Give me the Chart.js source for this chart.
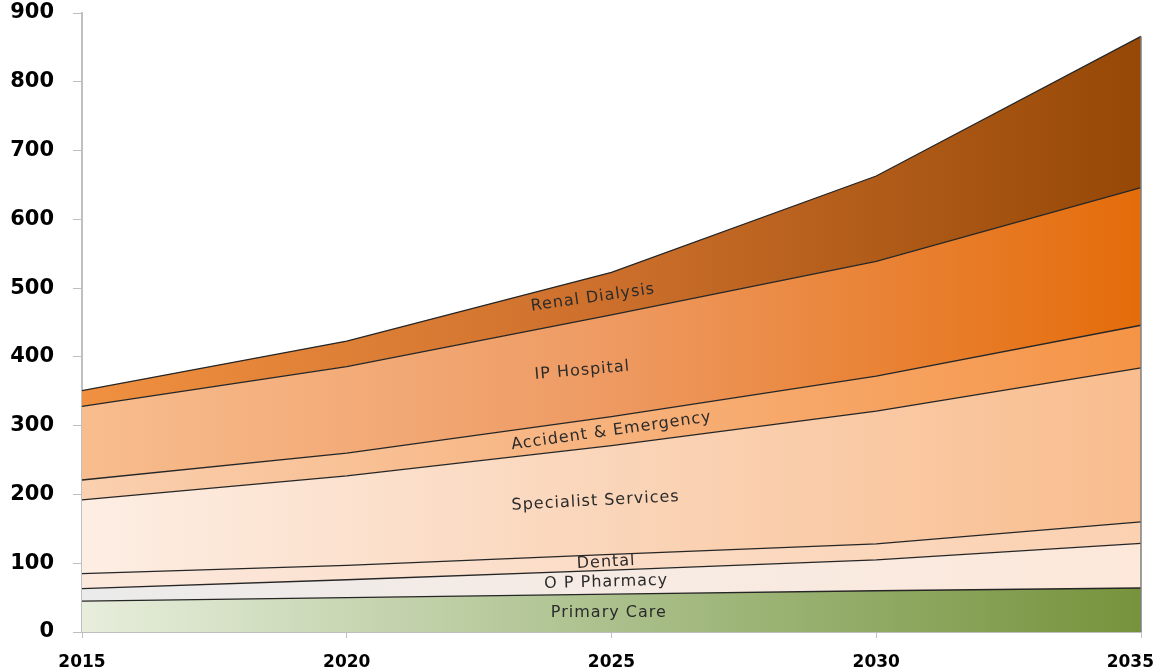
<!DOCTYPE html>
<html lang="en">
  <head>
    <meta charset="UTF-8" />
    <title>Health spend projection</title>
    <script src="https://cdn.jsdelivr.net/npm/chart.js@4"></script>
    <style>
      html, body {
        margin: 0;
        padding: 0;
        background: #fff;
      }
      .wrap {
        width: 1158px;
        height: 672px;
      }
    </style>
  </head>
  <body>
    <div class="wrap"><canvas id="chart" width="1158" height="672"></canvas></div>

    <script>
      // Values (stacked, bottom layer first)
      const years = ["2015", "2020", "2025", "2030", "2035"];
      const primaryCare = [45, 50, 55, 60, 64];
      const opPharmacy = [18, 26, 35, 45, 65];
      const dental = [22, 21, 23, 23, 31];
      const specialist = [107, 130, 158, 193, 224];
      const accidentEmergency = [29, 33, 42, 51, 62];
      const ipHospital = [107, 126, 148, 167, 200];
      const renalDialysis = [23, 37, 62, 124, 220];
      const yTicks = [0, 100, 200, 300, 400, 500, 600, 700, 800, 900];

      const layers = [
        { label: "Primary Care", data: primaryCare, stops: ["#e7eedc", "#abc08c", "#76933c"] },
        { label: "O P Pharmacy", data: opPharmacy, stops: ["#ebebeb", "#f6ebe4", "#fde8da"] },
        { label: "Dental", data: dental, stops: ["#fce9dd", "#fbdcc6", "#fbd1b1"] },
        { label: "Specialist Services", data: specialist, stops: ["#fdeee4", "#fad5b9", "#f9bd8e"] },
        { label: "Accident & Emergency", data: accidentEmergency, stops: ["#fad0b0", "#f7b27c", "#f59446"] },
        { label: "IP Hospital", data: ipHospital, stops: ["#f8bd8f", "#ee9a62", "#e46c0a"] },
        { label: "Renal Dialysis", data: renalDialysis, stops: ["#f09040", "#cc6f2c", "#964806"] },
      ];

      // where each band's name sits: layer index, fractional category index, angle in degrees
      const bandLabels = [
        { layer: 6, at: 1.93, angle: -8 },
        { layer: 5, at: 1.89, angle: -5 },
        { layer: 4, at: 2.0, angle: -8 },
        { layer: 3, at: 1.94, angle: -3 },
        { layer: 2, at: 1.98, angle: -3 },
        { layer: 1, at: 1.98, angle: -1.5 },
        { layer: 0, at: 1.99, angle: 0 },
      ];

      function gradientFor(stops) {
        return (context) => {
          const { ctx, chartArea } = context.chart;
          if (!chartArea) return stops[0];
          const g = ctx.createLinearGradient(chartArea.left, 0, chartArea.right, 0);
          g.addColorStop(0, stops[0]);
          g.addColorStop(0.5, stops[1]);
          g.addColorStop(1, stops[2]);
          return g;
        };
      }

      // running totals so labels can sit in the middle of their band
      function cumulative(upTo) {
        return years.map((_, i) => {
          let s = 0;
          for (let k = 0; k <= upTo; k++) s += layers[k].data[i];
          return s;
        });
      }
      function valueAt(series, at) {
        const i = Math.min(Math.floor(at), series.length - 2);
        const t = at - i;
        return series[i] + (series[i + 1] - series[i]) * t;
      }

      const bandLabelPlugin = {
        id: "bandLabels",
        afterDatasetsDraw(chart) {
          const { ctx, scales, chartArea, width } = chart;
          ctx.save();

          // right edge outline of the stack
          const total = cumulative(layers.length - 1);
          ctx.strokeStyle = "#7f7f7f";
          ctx.lineWidth = 1.5;
          ctx.beginPath();
          ctx.moveTo(chartArea.right, scales.y.getPixelForValue(total[total.length - 1]));
          ctx.lineTo(chartArea.right, scales.y.getPixelForValue(0));
          ctx.stroke();

          // year labels, kept inside the canvas at the right end
          ctx.font = "bold 17px 'DejaVu Sans'";
          ctx.fillStyle = "#000";
          ctx.textAlign = "center";
          ctx.textBaseline = "middle";
          years.forEach((yr, i) => {
            const w = ctx.measureText(yr).width;
            let x = scales.x.getPixelForValue(i);
            x = Math.min(x, width - 4 - w / 2);
            x = Math.max(x, 4 + w / 2);
            ctx.fillText(yr, x, chartArea.bottom + 31);
          });

          ctx.font = "16px 'DejaVu Sans'";
          ctx.letterSpacing = "1px";
          ctx.fillStyle = "#2b2b2b";
          bandLabels.forEach((b) => {
            const top = valueAt(cumulative(b.layer), b.at);
            const bottom = b.layer === 0 ? 0 : valueAt(cumulative(b.layer - 1), b.at);
            const x = scales.x.getPixelForValue(b.at);
            const y = scales.y.getPixelForValue((top + bottom) / 2);
            ctx.save();
            ctx.translate(x, y);
            ctx.rotate((b.angle * Math.PI) / 180);
            ctx.fillText(layers[b.layer].label, 0, 0);
            ctx.restore();
          });
          ctx.restore();
        },
      };

      new Chart(document.getElementById("chart"), {
        type: "line",
        data: {
          labels: years,
          datasets: layers.map((l, i) => ({
            label: l.label,
            data: l.data,
            fill: i === 0 ? "origin" : "-1",
            backgroundColor: gradientFor(l.stops),
            borderColor: "#262626",
            borderWidth: 1.3,
            pointRadius: 0,
            tension: 0,
          })),
        },
        options: {
          responsive: false,
          animation: false,
          layout: { padding: { top: 13, right: 17, bottom: 0, left: 0 } },
          plugins: {
            legend: { display: false },
            tooltip: { enabled: false },
          },
          scales: {
            x: {
              afterFit: (s) => {
                s.height = 40;
                s.paddingLeft = 0;
                s.paddingRight = 0;
              },
              grid: { drawOnChartArea: false, drawTicks: true, tickLength: 6, color: "#bfbfbf" },
              border: { color: "#bfbfbf", width: 2 },
              ticks: { display: false },
            },
            y: {
              stacked: true,
              min: 0,
              max: 900,
              afterFit: (s) => {
                s.width = 82;
                s.paddingTop = 0;
                s.paddingBottom = 0;
              },
              afterBuildTicks: (s) => { s.ticks = yTicks.map((v) => ({ value: v })); },
              grid: { drawOnChartArea: false, drawTicks: true, tickLength: 9, color: "#bfbfbf" },
              border: { color: "#bfbfbf", width: 2 },
              ticks: {
                color: "#000",
                padding: 19,
                font: { family: "'DejaVu Sans'", size: 21, weight: "bold" },
              },
            },
          },
        },
        plugins: [bandLabelPlugin],
      });
    </script>
  </body>
</html>
